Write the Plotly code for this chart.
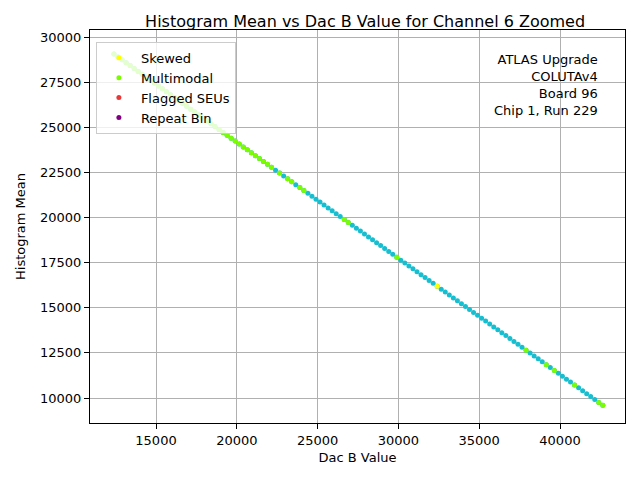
import plotly.graph_objects as go

dac_b = [
    12400, 12650, 12900, 13150, 13400, 13650, 13900, 14150, 14400, 14650,
    14900, 15150, 15400, 15650, 15900, 16150, 16400, 16650, 16900, 17150,
    17400, 17650, 17900, 18150, 18400, 18650, 18900, 19150, 19400, 19650,
    19900, 20150, 20400, 20650, 20900, 21150, 21400, 21650, 21900, 22150,
    22400, 22650, 22900, 23150, 23400, 23650, 23900, 24150, 24400, 24650,
    24900, 25150, 25400, 25650, 25900, 26150, 26400, 26650, 26900, 27150,
    27400, 27650, 27900, 28150, 28400, 28650, 28900, 29150, 29400, 29650,
    29900, 30150, 30400, 30650, 30900, 31150, 31400, 31650, 31900, 32150,
    32400, 32650, 32900, 33150, 33400, 33650, 33900, 34150, 34400, 34650,
    34900, 35150, 35400, 35650, 35900, 36150, 36400, 36650, 36900, 37150,
    37400, 37650, 37900, 38150, 38400, 38650, 38900, 39150, 39400, 39650,
    39900, 40150, 40400, 40650, 40900, 41150, 41400, 41650, 41900, 42150,
    42400, 42650,
]
hist_mean = [
    29058, 28897, 28736, 28575, 28415, 28254, 28093, 27932, 27771, 27610,
    27450, 27289, 27128, 26967, 26806, 26645, 26484, 26324, 26163, 26002,
    25841, 25680, 25519, 25358, 25198, 25037, 24876, 24715, 24554, 24393,
    24233, 24072, 23911, 23750, 23589, 23428, 23267, 23107, 22946, 22785,
    22624, 22463, 22302, 22142, 21981, 21820, 21659, 21498, 21337, 21176,
    21016, 20855, 20694, 20533, 20372, 20211, 20051, 19890, 19729, 19568,
    19407, 19246, 19085, 18925, 18764, 18603, 18442, 18281, 18120, 17960,
    17799, 17638, 17477, 17316, 17155, 16994, 16834, 16673, 16512, 16351,
    16190, 16029, 15869, 15708, 15547, 15386, 15225, 15064, 14903, 14743,
    14582, 14421, 14260, 14099, 13938, 13778, 13617, 13456, 13295, 13134,
    12973, 12812, 12652, 12491, 12330, 12169, 12008, 11847, 11687, 11526,
    11365, 11204, 11043, 10882, 10721, 10561, 10400, 10239, 10078, 9917,
    9756, 9596,
]

# dac values flagged in each category
multimodal_dac = [
    12400, 12650, 12900, 13150, 13400, 13650, 13900, 14150, 14400, 14650,
    14900, 15150, 15400, 15650, 15900, 16150, 16400, 16650, 16900, 17150,
    17400, 17650, 17900, 18150, 18400, 18650, 18900, 19150, 19400, 19650,
    19900, 20150, 20400, 20650, 20900, 21150, 21400, 21650, 21900, 22150,
    22650, 23150, 23400, 23900, 24150, 26650, 26900, 29900,
    37900, 39150, 39650, 40900, 42400, 42650,
]
skewed_dac = [32400]
flagged_dac = []
repeat_dac = []

x_ticks = [15000, 20000, 25000, 30000, 35000, 40000]
y_ticks = [10000, 12500, 15000, 17500, 20000, 22500, 25000, 27500, 30000]

info_lines = ["ATLAS Upgrade", "COLUTAv4", "Board 96", "Chip 1, Run 229"]

mean_by_dac = dict(zip(dac_b, hist_mean))


def subset(dacs):
    if not dacs:
        return [None], [None]
    return dacs, [mean_by_dac[d] for d in dacs]


fig = go.Figure()
fig.add_trace(go.Scatter(
    x=dac_b, y=hist_mean, mode='markers',
    marker=dict(color='#17becf', size=5),
    showlegend=False,
))

categories = [
    ('Skewed', skewed_dac, 'yellow'),
    ('Multimodal', multimodal_dac, '#7cfc00'),
    ('Flagged SEUs', flagged_dac, '#e8393a'),
    ('Repeat Bin', repeat_dac, 'purple'),
]
for name, dacs, color in categories:
    xs, ys = subset(dacs)
    fig.add_trace(go.Scatter(
        x=xs, y=ys, mode='markers', name=name,
        marker=dict(color=color, size=5),
    ))

fig.add_annotation(
    text="<br>".join(info_lines),
    xref='paper', yref='paper', x=0.953, y=0.95,
    xanchor='right', yanchor='top', align='right',
    showarrow=False, font=dict(size=13, color='black'),
)

axis_style = dict(
    showgrid=True, gridcolor='#b0b0b0', gridwidth=1,
    showline=True, linecolor='black', linewidth=1, mirror=True,
    ticks='outside', ticklen=5, tickcolor='black',
    tickfont=dict(size=13), zeroline=False,
)

fig.update_layout(
    width=640, height=480,
    margin=dict(l=82, r=23, t=22, b=65),
    paper_bgcolor='white', plot_bgcolor='white',
    font=dict(family='DejaVu Sans', color='black'),
    title=dict(text="Histogram Mean vs Dac B Value for Channel 6 Zoomed",
               x=0.558, xanchor='center', y=0.973, yanchor='middle',
               font=dict(size=16)),
    legend=dict(x=0.011, y=0.97, xanchor='left', yanchor='top',
                bgcolor='rgba(255,255,255,0.8)', bordercolor='#cccccc',
                borderwidth=1, font=dict(size=13), itemwidth=34),
    xaxis=dict(range=[10916, 44022], tickvals=x_ticks,
               ticktext=[str(v) for v in x_ticks],
               title=dict(text='Dac B Value', font=dict(size=13), standoff=6),
               **axis_style),
    yaxis=dict(range=[8615, 30388], tickvals=y_ticks,
               ticktext=[str(v) for v in y_ticks],
               title=dict(text='Histogram Mean', font=dict(size=13), standoff=11),
               **axis_style),
)

fig.write_html("out.html")
